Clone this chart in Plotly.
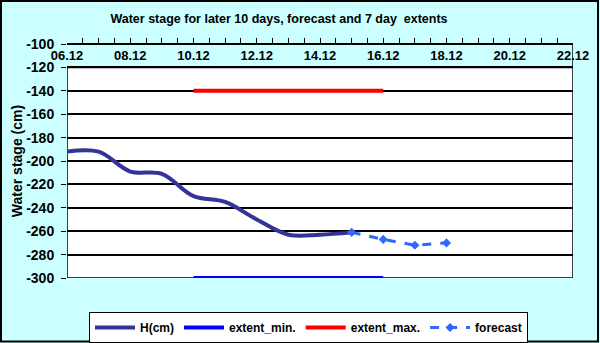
import plotly.graph_objects as go

# dados
dias_h = ["2023-12-06", "2023-12-07", "2023-12-08", "2023-12-09", "2023-12-10",
          "2023-12-11", "2023-12-12", "2023-12-13", "2023-12-14", "2023-12-15"]
h_cm = [-192, -192, -209, -211, -230, -235, -250, -263, -263, -261]

dias_extent = ["2023-12-10", "2023-12-16"]
extent_min = [-300, -300]
extent_max = [-140, -140]

dias_forecast = ["2023-12-15", "2023-12-16", "2023-12-17", "2023-12-18"]
forecast = [-261, -267, -272, -270]

# eixos
x_ticks = ["2023-12-06", "2023-12-08", "2023-12-10", "2023-12-12", "2023-12-14",
           "2023-12-16", "2023-12-18", "2023-12-20", "2023-12-22"]
x_labels = ["06.12", "08.12", "10.12", "12.12", "14.12", "16.12", "18.12", "20.12", "22.12"]
y_ticks = [-100, -120, -140, -160, -180, -200, -220, -240, -260, -280, -300]
y_labels = ["-100", "-120", "-140", "-160", "-180", "-200", "-220", "-240", "-260", "-280", "-300"]

x_inicio = "2023-12-06"
x_fim = "2023-12-22"

FONTE = "Arial, Liberation Sans, sans-serif"
CIANO = "#CCFFFF"

fig = go.Figure()

fig.add_trace(go.Scatter(
    x=dias_h, y=h_cm, mode="lines", name="H(cm)",
    line=dict(color="#333399", width=4, shape="spline", smoothing=1.0)
))
fig.add_trace(go.Scatter(
    x=dias_extent, y=extent_min, mode="lines", name="extent_min.",
    line=dict(color="#0000FF", width=4)
))
fig.add_trace(go.Scatter(
    x=dias_extent, y=extent_max, mode="lines", name="extent_max.",
    line=dict(color="#FF0000", width=4)
))
fig.add_trace(go.Scatter(
    x=dias_forecast, y=forecast, mode="lines+markers", name="forecast",
    line=dict(color="#3366FF", width=3, dash="dash"),
    marker=dict(symbol="diamond", size=7, color="#3366FF")
))

# fundo branco da área do gráfico (de -120 a -300)
fig.add_shape(type="rect", xref="x", yref="y", x0=x_inicio, x1=x_fim, y0=-300, y1=-120,
              fillcolor="white", line=dict(color="black", width=1.5), layer="below")
fig.add_shape(type="line", xref="x", yref="y", x0=x_fim, x1=x_fim, y0=-120, y1=-100,
              line=dict(color="black", width=1.5), layer="below")
# moldura externa
fig.add_shape(type="rect", xref="paper", yref="paper",
              x0=-66 / 506, x1=531 / 506, y0=-63.5 / 234, y1=1 + 43 / 234,
              line=dict(color="black", width=2), fillcolor="rgba(0,0,0,0)")
# sombra da legenda
fig.add_shape(type="rect", xref="paper", yref="paper",
              x0=(92 - 67) / 506, x1=(528 - 67) / 506, y0=(278 - 341) / 234, y1=(278 - 318) / 234,
              line=dict(width=0), fillcolor="black", layer="below")

fig.update_layout(
    width=600, height=343,
    margin=dict(l=67, r=27, t=44, b=65, autoexpand=False),
    paper_bgcolor=CIANO,
    plot_bgcolor=CIANO,
    font=dict(family=FONTE, color="black"),
    title=dict(text="<b>Water stage for later 10 days, forecast and 7 day  extents</b>",
               x=0.465, xanchor="center", y=0.945, yanchor="middle",
               font=dict(size=12.5)),
    showlegend=True,
    legend=dict(orientation="h", x=(89 - 67) / 506, xanchor="left", y=-34 / 234, yanchor="top",
                bgcolor="white", bordercolor="black", borderwidth=1,
                font=dict(size=12, family=FONTE, weight="bold"), itemwidth=40),
)

fig.update_xaxes(
    type="date", side="bottom", anchor="free", position=1.0, range=[x_inicio, x_fim],
    tickvals=x_ticks, ticktext=x_labels,
    ticks="inside", ticklen=5, tickcolor="black", tickwidth=1,
    minor=dict(dtick=12 * 3600 * 1000, ticks="inside", ticklen=5, tickcolor="black", showgrid=False),
    showline=True, linecolor="black", linewidth=1.5,
    showgrid=False, zeroline=False, automargin=False,
    tickfont=dict(size=13, family=FONTE, weight="bold"),
)
fig.update_yaxes(
    range=[-300, -100], tickvals=y_ticks, ticktext=y_labels,
    ticks="outside", ticklen=5, tickcolor="black", ticklabelstandoff=4,
    showgrid=True, gridcolor="black", gridwidth=1.5,
    showline=False, zeroline=False, automargin=False,
    tickfont=dict(size=14, family=FONTE, weight="bold"),
    title=dict(text="<b>Water stage (cm)</b>", font=dict(size=14), standoff=0),
)

fig.write_html("out.html", config={"displayModeBar": False},
               post_script="document.body.style.margin='0';document.body.style.padding='0';")
